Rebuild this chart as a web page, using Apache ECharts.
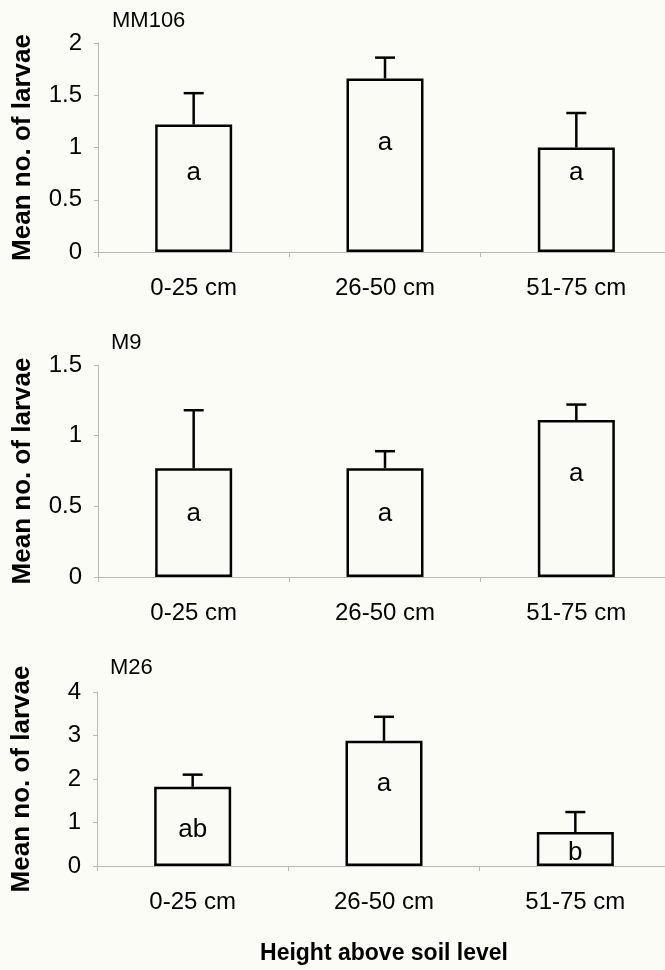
<!DOCTYPE html>
<html>
<head>
<meta charset="utf-8">
<script src="https://cdn.jsdelivr.net/npm/echarts@6/dist/echarts.min.js"></script>
<style>
  html, body { margin: 0; padding: 0; background: #fcfcf7; }
  #chart { width: 665px; height: 970px; }
</style>
</head>
<body>
<div id="chart"></div>
<script>
var categories = ['0-25 cm', '26-50 cm', '51-75 cm'];

// mean and standard error (upper bar only) per rootstock
var mm106Mean = [1.22, 1.66, 1.0];
var mm106SE = [0.30, 0.20, 0.33];
var mm106Letters = ['a', 'a', 'a'];
var mm106LetterAt = [0.76, 1.04, 0.76];

var m9Mean = [0.77, 0.77, 1.11];
var m9SE = [0.41, 0.12, 0.11];
var m9Letters = ['a', 'a', 'a'];
var m9LetterAt = [0.45, 0.45, 0.73];

var m26Mean = [1.82, 2.88, 0.78];
var m26SE = [0.28, 0.55, 0.46];
var m26Letters = ['ab', 'a', 'b'];
var m26LetterAt = [0.83, 1.9, 0.3];

var yMax = [2, 1.5, 4];
var yStep = [0.5, 0.5, 1];
var panelNames = ['MM106', 'M9', 'M26'];

var font = "'Liberation Sans', Arial, sans-serif";
var dom = document.getElementById('chart');
var myChart = echarts.init(dom);

var panels = [
    { mean: mm106Mean, se: mm106SE, letters: mm106Letters, at: mm106LetterAt },
    { mean: m9Mean, se: m9SE, letters: m9Letters, at: m9LetterAt },
    { mean: m26Mean, se: m26SE, letters: m26Letters, at: m26LetterAt }
];

var grids = [
    { left: 98, top: 43, width: 574, height: 209, outerBoundsMode: 'none' },
    { left: 98, top: 365, width: 574, height: 212, outerBoundsMode: 'none' },
    { left: 97, top: 692, width: 574, height: 174, outerBoundsMode: 'none' }
];

var titles = [
    { text: panelNames[0], left: 112, top: 10 },
    { text: panelNames[1], left: 111, top: 332 },
    { text: panelNames[2], left: 110, top: 657 }
];

var xAxes = [], yAxes = [], series = [];

for (var i = 0; i < 3; i++) {
    xAxes.push({
        type: 'category',
        gridIndex: i,
        data: categories,
        axisLine: { lineStyle: { color: '#b8b8b4', width: 1 } },
        axisTick: { show: true, length: 5, lineStyle: { color: '#b8b8b4' } },
        axisLabel: { color: '#000', fontSize: 24, fontFamily: font, margin: 24 },
        name: i === 2 ? 'Height above soil level' : '',
        nameLocation: 'middle',
        nameGap: 76,
        nameTextStyle: { color: '#000', fontSize: 23, fontWeight: 'bold', fontFamily: font }
    });
    yAxes.push({
        type: 'value',
        gridIndex: i,
        min: 0,
        max: yMax[i],
        interval: yStep[i],
        splitLine: { show: false },
        axisLine: { show: true, lineStyle: { color: '#b8b8b4', width: 1 } },
        axisTick: { show: true, length: 4, lineStyle: { color: '#b8b8b4' } },
        axisLabel: { color: '#000', fontSize: 24, fontFamily: font, margin: 16 },
        name: 'Mean no. of larvae',
        nameLocation: 'middle',
        nameRotate: 90,
        nameGap: 62,
        nameTextStyle: { color: '#000', fontSize: 26, fontWeight: 'bold', fontFamily: font }
    });

    var p = panels[i];
    series.push({
        type: 'bar',
        xAxisIndex: i,
        yAxisIndex: i,
        barWidth: 77,
        data: p.mean,
        itemStyle: { color: '#fbfbf6', borderColor: '#000', borderWidth: 2.5 },
        z: 2
    });

    var errData = p.mean.map(function (m, k) { return [k, m, m + p.se[k]]; });
    series.push({
        type: 'custom',
        xAxisIndex: i,
        yAxisIndex: i,
        data: errData,
        z: 3,
        renderItem: function (params, api) {
            var lo = api.coord([api.value(0), api.value(1)]);
            var hi = api.coord([api.value(0), api.value(2)]);
            var st = { stroke: '#000', lineWidth: 2.5 };
            return {
                type: 'group',
                children: [
                    { type: 'line', shape: { x1: lo[0], y1: lo[1], x2: hi[0], y2: hi[1] }, style: st },
                    { type: 'line', shape: { x1: hi[0] - 10, y1: hi[1], x2: hi[0] + 10, y2: hi[1] }, style: st }
                ]
            };
        }
    });

    var letterData = p.at.map(function (v, k) { return [k, v, p.letters[k]]; });
    series.push({
        type: 'custom',
        xAxisIndex: i,
        yAxisIndex: i,
        data: letterData,
        z: 4,
        renderItem: function (params, api) {
            var pt = api.coord([api.value(0), api.value(1)]);
            return {
                type: 'text',
                style: {
                    text: api.value(2),
                    x: pt[0],
                    y: pt[1],
                    align: 'center',
                    verticalAlign: 'middle',
                    fill: '#000',
                    font: '26px ' + font
                }
            };
        }
    });
}

var option = {
    animation: false,
    backgroundColor: '#fcfcf7',
    title: titles.map(function (t) {
        return {
            text: t.text, left: t.left, top: t.top, padding: 0,
            textStyle: { color: '#000', fontSize: 22, fontWeight: 'normal', fontFamily: font }
        };
    }),
    grid: grids,
    xAxis: xAxes,
    yAxis: yAxes,
    series: series
};

myChart.setOption(option, true);
</script>
</body>
</html>
